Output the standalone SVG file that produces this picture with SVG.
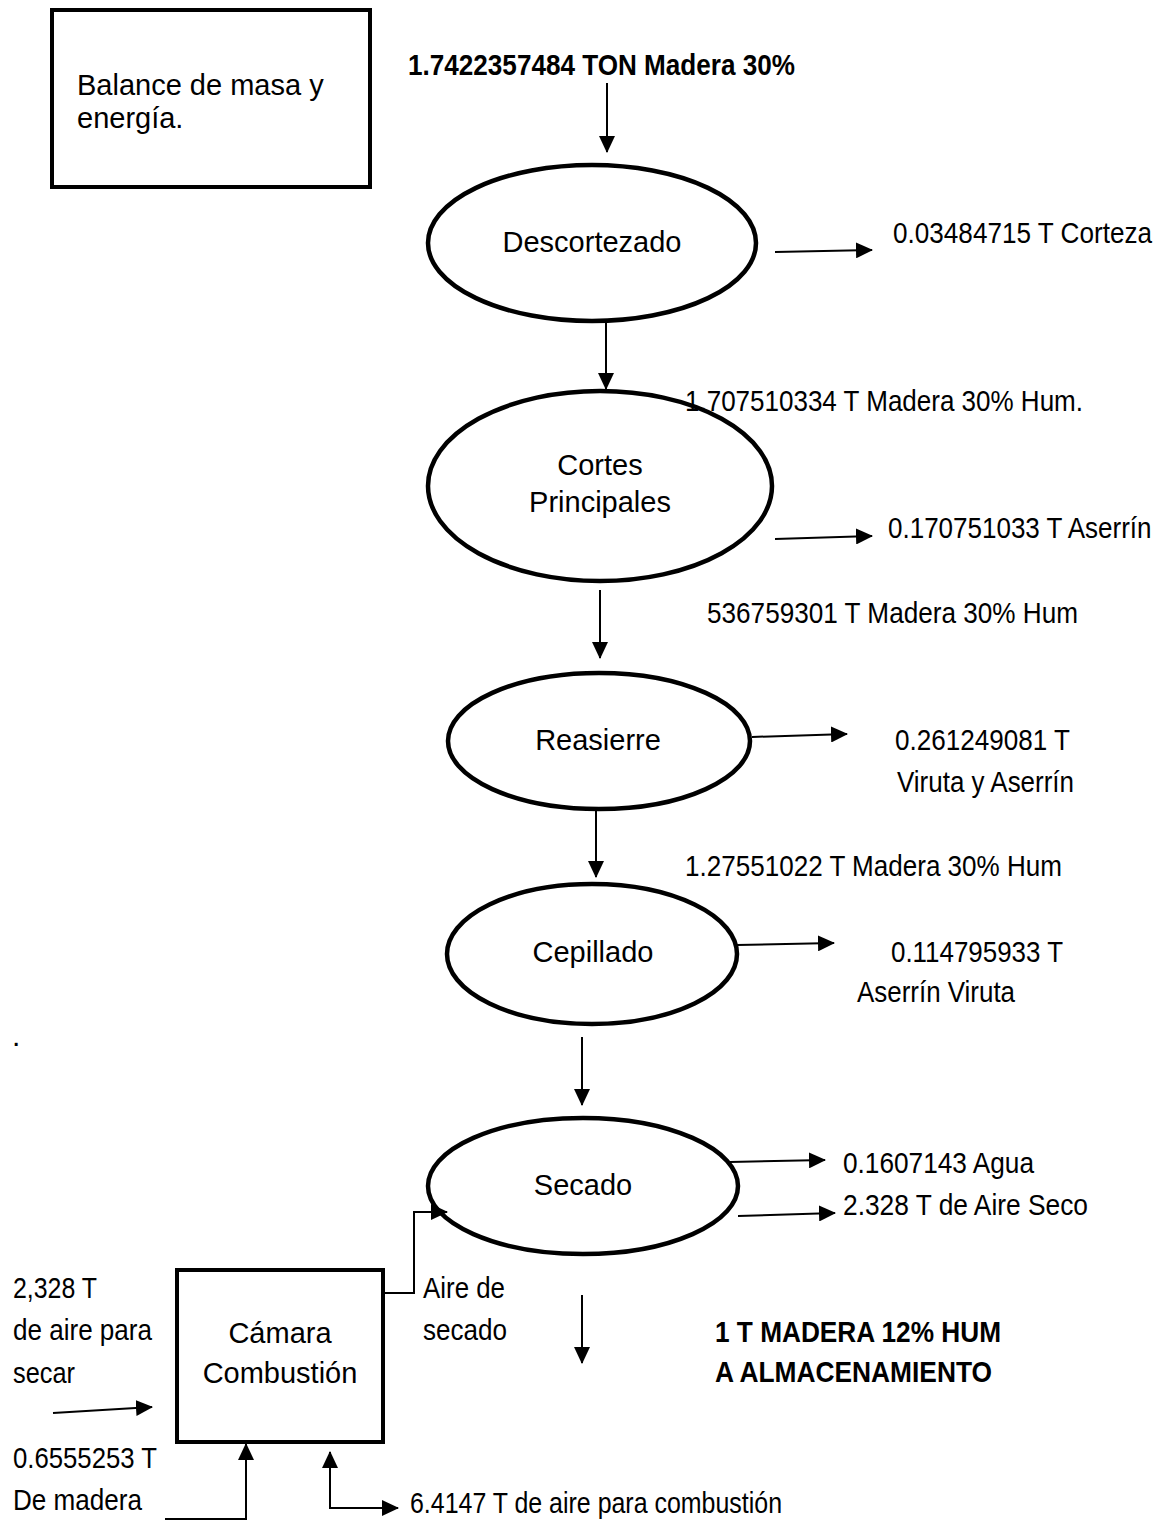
<svg xmlns="http://www.w3.org/2000/svg" width="1168" height="1522" viewBox="0 0 1168 1522">
  <style>
    .node { fill: #fff; stroke: #000; stroke-width: 4.5; }
    .box { fill: #fff; stroke: #000; stroke-width: 4; }
    .lbl { font-family: "Liberation Sans", Arial, sans-serif; font-size: 29px; fill: #000; }
    .nar { font-family: "Liberation Sans", Arial, sans-serif; font-size: 30px; fill: #000; }
    .bold { font-family: "Liberation Sans", Arial, sans-serif; font-size: 30px; font-weight: bold; fill: #000; }
    .conn { fill: none; stroke: #000; stroke-width: 2; }
  </style>
  <defs>
    <marker id="ah" markerWidth="17" markerHeight="16" refX="16" refY="8" orient="auto-start-reverse" markerUnits="userSpaceOnUse">
      <path d="M0,0 L17,8 L0,16 z" fill="#000"/>
    </marker>
  </defs>
  <rect width="1168" height="1522" fill="#fff"/>

  <g id="title">
    <rect class="box" x="52" y="10" width="318" height="177"/>
    <text class="lbl" x="77" y="95">Balance de masa y</text>
    <text class="lbl" x="77" y="128">energía.</text>
  </g>

  <g id="input">
    <text class="bold" x="408" y="75" textLength="387" lengthAdjust="spacingAndGlyphs">1.7422357484 TON Madera 30%</text>
  </g>

  <g id="descortezado">
    <ellipse class="node" cx="592" cy="243" rx="164" ry="78"/>
    <text class="lbl" x="592" y="252" text-anchor="middle">Descortezado</text>
  </g>

  <g id="cortes">
    <ellipse class="node" cx="600" cy="486" rx="172" ry="95"/>
    <text class="lbl" x="600" y="475" text-anchor="middle">Cortes</text>
    <text class="lbl" x="600" y="512" text-anchor="middle">Principales</text>
  </g>

  <g id="reasierre">
    <ellipse class="node" cx="599" cy="741" rx="151" ry="68"/>
    <text class="lbl" x="598" y="750" text-anchor="middle">Reasierre</text>
  </g>

  <g id="cepillado">
    <ellipse class="node" cx="592" cy="954" rx="145" ry="70"/>
    <text class="lbl" x="593" y="962" text-anchor="middle">Cepillado</text>
  </g>

  <g id="secado">
    <ellipse class="node" cx="583" cy="1186" rx="155" ry="68"/>
    <text class="lbl" x="583" y="1195" text-anchor="middle">Secado</text>
  </g>

  <g id="camara">
    <rect class="box" x="177" y="1270" width="206" height="172"/>
    <text class="lbl" x="280" y="1343" text-anchor="middle">Cámara</text>
    <text class="lbl" x="280" y="1383" text-anchor="middle">Combustión</text>
  </g>

  <g id="labels">
    <text class="nar" transform="translate(893,243) scale(0.871,1)">0.03484715 T Corteza</text>
    <text class="nar" x="685" y="411" textLength="398" lengthAdjust="spacingAndGlyphs">1.707510334 T Madera 30% Hum.</text>
    <text class="nar" transform="translate(888,538) scale(0.867,1)">0.170751033 T Aserrín</text>
    <text class="nar" x="707" y="623" textLength="371" lengthAdjust="spacingAndGlyphs">536759301 T Madera 30% Hum</text>
    <text class="nar" x="895" y="750" textLength="175" lengthAdjust="spacingAndGlyphs">0.261249081 T</text>
    <text class="nar" x="897" y="792" textLength="177" lengthAdjust="spacingAndGlyphs">Viruta y Aserrín</text>
    <text class="nar" x="685" y="876" textLength="377" lengthAdjust="spacingAndGlyphs">1.27551022 T Madera 30% Hum</text>
    <text class="nar" x="891" y="962" textLength="172" lengthAdjust="spacingAndGlyphs">0.114795933 T</text>
    <text class="nar" x="857" y="1002" textLength="158" lengthAdjust="spacingAndGlyphs">Aserrín Viruta</text>
    <text class="nar" x="12" y="1046">.</text>
    <text class="nar" x="843" y="1173" textLength="191" lengthAdjust="spacingAndGlyphs">0.1607143 Agua</text>
    <text class="nar" x="843" y="1215" textLength="245" lengthAdjust="spacingAndGlyphs">2.328 T de Aire Seco</text>
    <text class="nar" x="423" y="1298" textLength="82" lengthAdjust="spacingAndGlyphs">Aire de</text>
    <text class="nar" x="423" y="1340" textLength="84" lengthAdjust="spacingAndGlyphs">secado</text>
    <text class="bold" x="715" y="1342" textLength="286" lengthAdjust="spacingAndGlyphs">1 T MADERA 12% HUM</text>
    <text class="bold" x="715" y="1382" textLength="277" lengthAdjust="spacingAndGlyphs">A ALMACENAMIENTO</text>
    <text class="nar" x="13" y="1298" textLength="84" lengthAdjust="spacingAndGlyphs">2,328 T</text>
    <text class="nar" x="13" y="1340" textLength="139" lengthAdjust="spacingAndGlyphs">de aire para</text>
    <text class="nar" x="13" y="1383" textLength="62" lengthAdjust="spacingAndGlyphs">secar</text>
    <text class="nar" x="13" y="1468" textLength="144" lengthAdjust="spacingAndGlyphs">0.6555253 T</text>
    <text class="nar" x="13" y="1510" textLength="129" lengthAdjust="spacingAndGlyphs">De madera</text>
    <text class="nar" x="410" y="1513" textLength="372" lengthAdjust="spacingAndGlyphs">6.4147  T de aire para combustión</text>
  </g>

  <g id="connectors">
    <line class="conn" x1="607" y1="83" x2="607" y2="152" marker-end="url(#ah)"/>
    <line class="conn" x1="606" y1="323" x2="606" y2="389" marker-end="url(#ah)"/>
    <line class="conn" x1="600" y1="590" x2="600" y2="658" marker-end="url(#ah)"/>
    <line class="conn" x1="596" y1="810" x2="596" y2="877" marker-end="url(#ah)"/>
    <line class="conn" x1="582" y1="1037" x2="582" y2="1105" marker-end="url(#ah)"/>
    <line class="conn" x1="582" y1="1295" x2="582" y2="1363" marker-end="url(#ah)"/>
    <line class="conn" x1="775" y1="252" x2="872" y2="250" marker-end="url(#ah)"/>
    <line class="conn" x1="775" y1="539" x2="872" y2="536" marker-end="url(#ah)"/>
    <line class="conn" x1="752" y1="737" x2="847" y2="734" marker-end="url(#ah)"/>
    <line class="conn" x1="737" y1="945" x2="834" y2="943" marker-end="url(#ah)"/>
    <line class="conn" x1="730" y1="1162" x2="825" y2="1160" marker-end="url(#ah)"/>
    <line class="conn" x1="738" y1="1216" x2="835" y2="1213" marker-end="url(#ah)"/>
    <path class="conn" d="M383,1293 H414 V1212 H447" marker-end="url(#ah)"/>
    <line class="conn" x1="53" y1="1413" x2="152" y2="1407" marker-end="url(#ah)"/>
    <path class="conn" d="M165,1519 H246 V1444" marker-end="url(#ah)"/>
    <path class="conn" d="M330,1452 V1508 H398" marker-start="url(#ah)" marker-end="url(#ah)"/>
  </g>
</svg>
